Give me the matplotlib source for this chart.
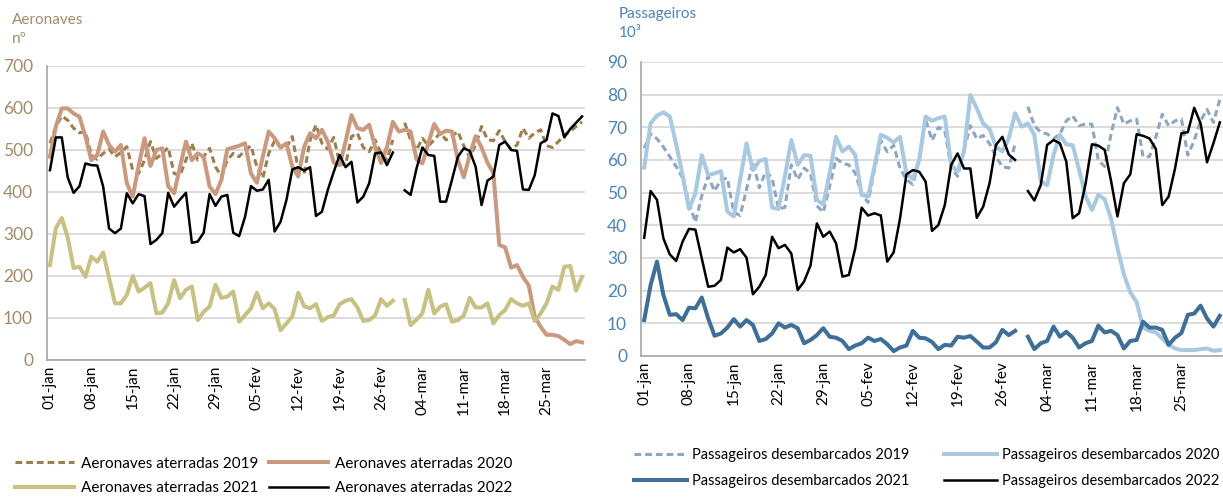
import numpy as np
import matplotlib.pyplot as plt

nan = np.nan

# ================= categorias (inclui 29-fev) =================
TICK_POS = list(range(0, 91, 7))
TICK_LABELS = ["01-jan", "08-jan", "15-jan", "22-jan", "29-jan", "05-fev", "12-fev",
               "19-fev", "26-fev", "04-mar", "11-mar", "18-mar", "25-mar"]

# ================= aeronaves aterradas =================
aer_2019 = [516, 556, 581, 571, 552, 541, 544, 488, 478, 492,
            502, 484, 494, 508, 452, 444, 476, 520, 480, 492,
            506, 444, 440, 476, 516, 476, 484, 504, 460, 437,
            476, 492, 484, 500, 510, 460, 433, 492, 522, 506,
            506, 532, 452, 444, 524, 560, 516, 502, 530, 468,
            464, 532, 540, 506, 496, 524, 492, 476, 524, nan,
            565, 524, 500, 528, 510, 524, 541, 524, 533, 544,
            510, 483, 512, 556, 525, 522, 546, 520, 502, 512,
            552, 528, 541, 548, 510, 506, 520, 536, 544, 556,
            567]
aer_2020 = [484, 556, 599, 599, 587, 579, 532, 476, 488, 544,
            512, 496, 512, 421, 389, 462, 528, 462, 500, 504,
            414, 397, 460, 520, 476, 492, 484, 413, 395, 429,
            502, 506, 510, 516, 444, 422, 484, 544, 528, 506,
            516, 460, 437, 508, 540, 528, 548, 520, 470, 464,
            520, 583, 552, 548, 560, 507, 469, 507, 567, 544,
            548, 544, 478, 468, 516, 562, 538, 546, 544, 476,
            435, 488, 533, 506, 470, 445, 274, 268, 220, 226,
            198, 177, 103, 79, 60, 60, 57, 48, 38, 45,
            42]
aer_2021 = [226, 314, 338, 292, 219, 222, 198, 246, 234, 256,
            195, 135, 135, 155, 200, 163, 172, 183, 111, 113,
            135, 190, 147, 167, 175, 95, 115, 127, 179, 148,
            151, 163, 91, 107, 123, 160, 123, 135, 121, 71,
            87, 104, 160, 128, 123, 133, 93, 102, 106, 133,
            141, 145, 125, 93, 95, 106, 145, 129, 141, nan,
            143, 83, 96, 111, 167, 111, 127, 133, 91, 95,
            106, 148, 125, 125, 135, 87, 107, 119, 145, 135,
            129, 135, 93, 111, 135, 175, 167, 222, 224, 165,
            198]
aer_2022 = [452, 530, 530, 435, 398, 414, 468, 464, 463, 413,
            313, 302, 313, 397, 373, 395, 390, 276, 286, 302,
            398, 365, 382, 398, 279, 282, 303, 395, 367, 389,
            393, 303, 295, 341, 414, 403, 406, 429, 306, 329,
            381, 454, 459, 451, 459, 343, 353, 405, 448, 488,
            459, 472, 375, 389, 421, 492, 494, 464, 494, nan,
            404, 393, 456, 506, 488, 486, 377, 377, 429, 484,
            504, 498, 460, 369, 427, 437, 512, 520, 500, 498,
            406, 405, 440, 516, 524, 587, 581, 530, 550, 565,
            580]

# ================= passageiros desembarcados (10^3) =================
pax_2019 = [63.6, 68, 66.5, 64, 61, 58, 54.5, 47, 41, 49,
            55, 50.5, 54, 54.5, 44, 43, 51, 59.5, 51.5, 56.5,
            54.5, 45, 45.5, 58.5, 54, 57.5, 56, 46, 44, 52,
            60.5, 59, 58.5, 56, 49.5, 47, 57, 66, 62.5, 64.5,
            57.5, 54, 52.5, 60, 72.5, 66, 70, 69, 57.5, 55,
            63, 70.5, 66.5, 67.5, 65, 61, 58, 57.5, 65, nan,
            76.3, 70.5, 68.5, 68, 66.5, 68, 72, 73.5, 70.5, 71,
            71, 60, 58, 68, 76, 71, 72, 72.5, 61, 61,
            67, 74, 70.5, 72, 72.5, 61.5, 66, 72, 75.5, 71.5,
            78.5]
pax_2020 = [57.7, 71.2, 73.6, 74.6, 73.3, 64.8, 55.4, 45, 49.8, 61.5,
            55.4, 55.9, 56.6, 44.2, 42.7, 54, 65.1, 56.9, 59.7, 60.3,
            45.4, 45, 55, 66.1, 58.5, 61.5, 61.3, 47.8, 46.4, 56,
            67.1, 62.6, 64.1, 61.5, 49.3, 48.8, 58, 67.7, 66.8, 65.4,
            67.1, 55.9, 54.2, 60, 73.3, 72, 72.8, 73.3, 58.5, 56.4,
            62.6, 79.9, 75.8, 71.2, 69.5, 64.1, 62.6, 66.6, 74.3, 70.2,
            71.2, 67.7, 53.6, 52.3, 61.5, 67.7, 64.8, 64.5, 57, 49,
            44.7, 49.3, 48, 42, 33, 25, 19.5, 16.5, 8.7, 7.7,
            7.2, 5.4, 3.4, 2.3, 1.8, 1.8, 1.8, 2.1, 2.3, 1.6,
            1.8]
pax_2021 = [11, 21.7, 28.9, 18.7, 12.6, 12.8, 11, 14.8, 14.6, 17.9,
            11.5, 6.2, 6.9, 8.7, 11.3, 9, 11, 9.5, 4.6, 5.2,
            6.9, 10, 8.7, 9.5, 8.5, 3.9, 4.9, 6.4, 8.5, 5.9,
            5.6, 4.6, 2.1, 3.2, 3.9, 5.6, 4.6, 5.2, 3.6, 1.5,
            2.6, 3.2, 7.7, 5.6, 5.4, 4.3, 2.1, 3.4, 3.2, 5.9,
            5.6, 6.1, 4.4, 2.6, 2.6, 4.2, 8, 6.4, 7.7, nan,
            5.9, 2.1, 3.9, 4.6, 9, 5.9, 7.4, 5.6, 2.6, 3.9,
            4.6, 9.3, 7.2, 7.7, 6.4, 2.3, 4.6, 4.9, 10.5, 8.7,
            8.7, 8, 3.4, 5.6, 7, 12.6, 13, 15.4, 11.5, 9,
            12.3]
pax_2022 = [36.2, 50.5, 47.8, 36, 31.1, 29.1, 35, 38.9, 38.7, 29.9,
            21.2, 21.5, 23.3, 33.2, 31.7, 32.7, 30.1, 18.9, 21.2, 24.8,
            36.5, 33, 34, 31.4, 20.2, 22.8, 27.7, 40.6, 36.5, 38.1,
            34.5, 24.3, 24.8, 33, 45.4, 43, 43.7, 43, 28.9, 31.7,
            42.1, 55.6, 56.9, 56.4, 53.4, 38.3, 40.1, 46.2, 58.5, 62,
            57.4, 57.4, 42.3, 45.7, 52.9, 64.6, 67.1, 61.7, 60, nan,
            50.5, 47.6, 52.3, 64.6, 66.1, 65.1, 59.5, 42.2, 43.7, 52.6,
            64.8, 64.4, 63.1, 53.6, 42.7, 52.9, 55.6, 67.9, 67.4, 66.6,
            63.4, 46.2, 48.8, 57.4, 68.2, 68.5, 76, 71.2, 59.3, 65.1,
            71.5]

# ================= estilos =================
plt.rcParams["font.family"] = ["Lato", "DejaVu Sans"]

TAN = "#A08C6A"
BLUE = "#4F83B0"
GRID = "#D9D9D9"
AXIS = "#A6A6A6"

AER_STYLES = [
    ("Aeronaves aterradas 2019", aer_2019, dict(color="#9C7F4E", lw=2.2, ls=(0, (2.2, 1.3)))),
    ("Aeronaves aterradas 2020", aer_2020, dict(color="#C99A80", lw=2.9, ls="-")),
    ("Aeronaves aterradas 2021", aer_2021, dict(color="#C8C184", lw=2.9, ls="-")),
    ("Aeronaves aterradas 2022", aer_2022, dict(color="black", lw=1.8, ls="-")),
]
PAX_STYLES = [
    ("Passageiros desembarcados 2019", pax_2019, dict(color="#8EA6BF", lw=2.2, ls=(0, (2.2, 1.3)))),
    ("Passageiros desembarcados 2020", pax_2020, dict(color="#A9C9E0", lw=2.9, ls="-")),
    ("Passageiros desembarcados 2021", pax_2021, dict(color="#3F6F97", lw=2.9, ls="-")),
    ("Passageiros desembarcados 2022", pax_2022, dict(color="black", lw=1.8, ls="-")),
]


def style_axis(ax, ymax, ystep, ycolor):
    ax.set_xlim(-0.5, 90.5)
    ax.set_ylim(0, ymax)
    ax.set_yticks(np.arange(0, ymax + 1, ystep))
    ax.set_xticks(TICK_POS)
    ax.set_xticklabels(TICK_LABELS, rotation=90, fontsize=11)
    ax.tick_params(axis="y", length=0, pad=10, labelsize=12.5, labelcolor=ycolor)
    ax.tick_params(axis="x", length=0, pad=4)
    ax.yaxis.grid(True, color=GRID, lw=1.3)
    ax.set_axisbelow(True)
    for s in ["top", "right"]:
        ax.spines[s].set_visible(False)
    for s in ["left", "bottom"]:
        ax.spines[s].set_color(AXIS)
        ax.spines[s].set_linewidth(1.2)


def draw_panel(ax, styles, order):
    x = np.arange(91)
    handles = []
    for label, values, st in styles:
        h, = ax.plot(x, values, label=label, **st)
        handles.append(h)
    return [handles[i] for i in order]


fig = plt.figure(figsize=(12.23, 4.97), dpi=100)

ax1 = fig.add_axes([47 / 1223, 137 / 497, 538 / 1223, 294 / 497])
style_axis(ax1, 700, 100, TAN)
h1 = draw_panel(ax1, AER_STYLES, [0, 2, 1, 3])

ax2 = fig.add_axes([641 / 1223, 141 / 497, 582 / 1223, 294 / 497])
style_axis(ax2, 90, 10, BLUE)
h2 = draw_panel(ax2, PAX_STYLES, [0, 2, 1, 3])

fig.text(12 / 1223, 1 - 20 / 497, "Aeronaves", color=TAN, fontsize=11, va="center")
fig.text(12 / 1223, 1 - 39 / 497, "nº", color=TAN, fontsize=11, va="center")
fig.text(619 / 1223, 1 - 14 / 497, "Passageiros", color=BLUE, fontsize=11, va="center")
fig.text(619 / 1223, 1 - 33 / 497, "10³", color=BLUE, fontsize=11, va="center")

fig.legend(handles=h1, labels=[h.get_label() for h in h1], ncol=2,
           loc="center left", bbox_to_anchor=(1 / 1223, 1 - 476 / 497),
           frameon=False, fontsize=11, handlelength=3.9, handletextpad=0.45,
           columnspacing=0.65, labelspacing=0.7)
fig.legend(handles=h2, labels=[h.get_label() for h in h2], ncol=2,
           loc="center left", bbox_to_anchor=(621 / 1223, 1 - 468 / 497),
           frameon=False, fontsize=10.5, handlelength=3.6, handletextpad=0.35,
           columnspacing=2.4, labelspacing=0.85)

fig.savefig("out.png", dpi=100)
